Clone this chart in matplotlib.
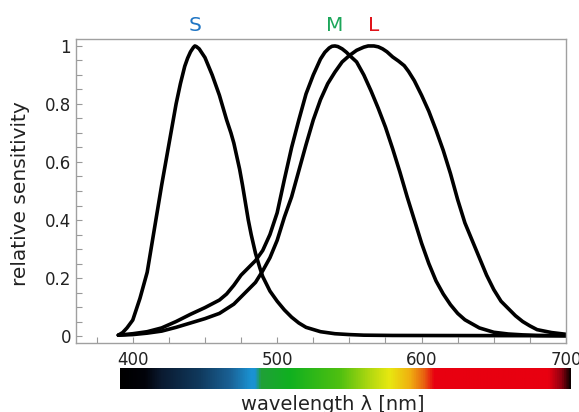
import numpy as np
import matplotlib
matplotlib.use("Agg")
import matplotlib.pyplot as plt
from matplotlib.colors import LinearSegmentedColormap

# cone sensitivity curves (wavelength nm -> relative value)
s_wl = [390, 393, 396, 400, 405, 410, 415, 420, 425, 430, 433, 436, 438, 440,
        442, 443, 444, 446, 448, 450, 455, 460, 465, 468, 470, 472, 474, 476,
        478, 480, 482, 485, 488, 490, 495, 500, 505, 510, 515, 520, 530, 540,
        550, 560, 580, 700]
s_val = [0.003, 0.012, 0.028, 0.055, 0.13, 0.22, 0.37, 0.52, 0.66, 0.8, 0.87,
         0.93, 0.958, 0.98, 0.995, 1.0, 0.998, 0.99, 0.975, 0.96, 0.9, 0.83,
         0.745, 0.7, 0.665, 0.62, 0.575, 0.52, 0.46, 0.4, 0.35, 0.285, 0.235,
         0.205, 0.155, 0.12, 0.09, 0.065, 0.045, 0.03, 0.015, 0.008, 0.005,
         0.003, 0.002, 0.001]

m_wl = [390, 400, 410, 420, 430, 440, 450, 460, 465, 470, 475, 480, 485, 490,
        495, 500, 505, 510, 515, 520, 525, 530, 533, 536, 538, 540, 542, 545,
        548, 550, 555, 560, 565, 570, 575, 580, 585, 590, 595, 600, 605, 610,
        615, 620, 625, 630, 640, 650, 660, 670, 680, 700]
m_val = [0.003, 0.008, 0.015, 0.028, 0.05, 0.075, 0.098, 0.124, 0.145, 0.175,
         0.21, 0.235, 0.26, 0.295, 0.35, 0.425, 0.54, 0.65, 0.745, 0.835, 0.9,
         0.955, 0.978, 0.993, 0.999, 1.0, 0.998, 0.99, 0.978, 0.968, 0.945,
         0.9, 0.845, 0.785, 0.72, 0.645, 0.565, 0.48, 0.4, 0.32, 0.25, 0.19,
         0.145, 0.108, 0.078, 0.056, 0.028, 0.013, 0.007, 0.004, 0.002, 0.001]

l_wl = [390, 400, 410, 420, 430, 440, 450, 460, 470, 475, 480, 485, 490, 495,
        500, 505, 510, 515, 520, 525, 530, 535, 540, 545, 550, 555, 560, 563,
        567, 570, 573, 576, 580, 584, 588, 591, 595, 600, 605, 610, 615, 620,
        625, 630, 635, 640, 645, 650, 655, 660, 665, 670, 675, 680, 690, 700]
l_val = [0.003, 0.005, 0.01, 0.017, 0.03, 0.045, 0.06, 0.078, 0.11, 0.135, 0.16,
         0.185, 0.225, 0.27, 0.33, 0.41, 0.48, 0.57, 0.66, 0.745, 0.815, 0.87,
         0.91, 0.945, 0.967, 0.985, 0.996, 1.0, 1.0, 0.997, 0.99, 0.98, 0.962,
         0.948, 0.932, 0.912, 0.88, 0.83, 0.775, 0.71, 0.64, 0.56, 0.47, 0.39,
         0.33, 0.27, 0.21, 0.16, 0.12, 0.095, 0.07, 0.05, 0.035, 0.022, 0.012,
         0.006]

cone_names = ["S", "M", "L"]
cone_colors = ["#1f75c4", "#1ca65a", "#e0141b"]
cone_peaks = [443, 540, 567]

# spectrum strip under the axis
spec_wl = [391, 408, 419, 446, 467, 481, 484, 488, 508, 543, 563, 577, 591,
           601, 608, 687, 696, 702]
spec_colors = ["#000000", "#02030a", "#0a1a30", "#103a5e", "#1a6296", "#1a92d2",
               "#1a92d2", "#20a038", "#10b020", "#50c010", "#b0d810", "#e8e810",
               "#f0b010", "#e86010", "#e80010", "#e80010", "#900010", "#100000"]

fig = plt.figure(figsize=(5.79, 4.12), dpi=100)
ax = fig.add_axes([76 / 579, 69 / 412, 490 / 579, 304 / 412])

for wl, val in [(s_wl, s_val), (m_wl, m_val), (l_wl, l_val)]:
    ax.plot(wl, val, color="black", lw=2.6, solid_joinstyle="round",
            solid_capstyle="round")

ax.set_xlim(360.7, 700)
ax.set_ylim(-0.024, 1.024)
ax.set_xticks([400, 500, 600, 700])
ax.set_xticks(np.arange(375, 700, 25), minor=True)
ax.set_yticks([0, 0.2, 0.4, 0.6, 0.8, 1])
ax.set_yticklabels(["0", "0.2", "0.4", "0.6", "0.8", "1"])
ax.set_yticks(np.arange(0, 1.01, 0.05), minor=True)
ax.tick_params(which="both", direction="in", length=4, width=0.8,
               color="#999999", labelsize=12, labelcolor="#222222")
ax.tick_params(axis="x", pad=6)
for sp in ax.spines.values():
    sp.set_color("#a0a0a0")
    sp.set_linewidth(1.0)
ax.set_ylabel("relative sensitivity", fontsize=14.5, color="#222222",
              labelpad=6)
ax.yaxis.set_label_coords(-0.093, 0.49)

for name, col, pk in zip(cone_names, cone_colors, cone_peaks):
    ax.text(pk, 1.046, name, color=col, fontsize=14.5, ha="center",
            va="center", transform=ax.get_xaxis_transform())

# colour strip
cax = fig.add_axes([120 / 579, 23 / 412, 451 / 579, 21 / 412])
cmap = LinearSegmentedColormap.from_list(
    "spec", [((w - spec_wl[0]) / (spec_wl[-1] - spec_wl[0]), c)
             for w, c in zip(spec_wl, spec_colors)])
grad = np.linspace(0, 1, 512)[None, :]
cax.imshow(grad, cmap=cmap, aspect="auto",
           extent=[spec_wl[0], spec_wl[-1], 0, 1])
cax.set_axis_off()

fig.text(333 / 579, 8 / 412, "wavelength λ [nm]", fontsize=14, ha="center",
         va="center", color="#222222")

fig.savefig("out.png", dpi=100)
